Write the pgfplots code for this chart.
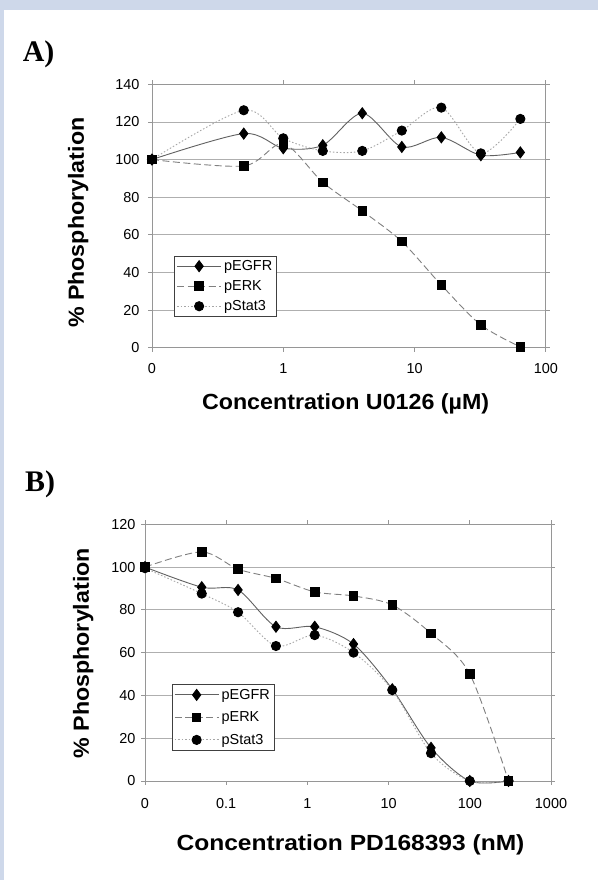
\documentclass[border=0pt]{standalone}
\usepackage{fontspec}
\setmainfont{Liberation Sans}
\newfontfamily\serifb{Liberation Serif}
\usepackage{graphicx}
\usepackage{pgfplots}
\pgfplotsset{compat=1.18}

\definecolor{bgblue}{RGB}{206,216,234}
\definecolor{gridc}{RGB}{175,175,175}
\definecolor{axc}{RGB}{150,150,150}

\pgfplotsset{
  myaxis/.style={
    scale only axis, ymin=0,
    axis line style={axc, line width=0.8bp},
    ymajorgrids, major grid style={gridc, line width=0.8bp},
    tick style={axc, line width=0.8bp},
    tick align=outside, major tick length=4bp,
    xminorticks=false, yminorticks=false,
    ticklabel style={font=\fontsize{14.5}{16}\selectfont},
    /pgf/number format/assume math mode=true,
    clip=false,
    legend cell align=left,
    legend image code/.code={\draw[mark repeat=2,mark phase=2,##1] plot coordinates {(0bp,0bp) (22bp,0bp) (44bp,0bp)};},
    legend style={draw=black!75, line width=0.8bp, fill=white,
      font=\fontsize{14.5}{16}\selectfont, inner xsep=2bp, inner ysep=1.5bp,
      row sep=3.5bp, nodes={inner sep=2.5bp}},
  },
  egfr/.style={color=black!62, solid, line width=0.9bp, smooth,
    mark=diamond*, mark size=5.5bp, mark options={solid, fill=black, draw=black}},
  erk/.style={color=black!50, dash pattern=on 7bp off 3.5bp, line width=0.9bp, smooth,
    mark=square*, mark size=4.3bp, mark options={solid, fill=black, draw=black}},
  stat/.style={color=black!35, dash pattern=on 1.5bp off 2bp, line width=0.9bp, smooth,
    mark=*, mark size=4.6bp, mark options={solid, fill=black, draw=black}},
}

\begin{document}
\begin{tikzpicture}
\fill[bgblue] (0,0) rectangle (598bp,880bp);
\fill[white] (4bp,0) rectangle (598bp,870bp);

% ---------------- Panel A ----------------
\begin{semilogxaxis}[myaxis,
  at={(152bp,532.3bp)}, anchor=south west,
  width=393.8bp, height=263.4bp,
  xmin=0.1, xmax=100, ymax=140,
  xtick={0.1,1,10,100}, xticklabels={0,1,10,100},
  ytick={0,20,...,140},
  xticklabel style={yshift=-8.6bp},
  yticklabel style={xshift=-5bp},
  legend style={at={(0.0566,0.348)}, anchor=north west},
]
\addplot[egfr] coordinates {(0.1,100) (0.5,113.8) (1,106) (2,107.6) (4,124.6) (8,106.7) (16,111.8) (32,102.3) (64,103.8)};
\addlegendentry{pEGFR}
\addplot[erk] coordinates {(0.1,100) (0.5,96.6) (1,108.4) (2,87.9) (4,72.7) (8,56.4) (16,33.3) (32,12.1) (64,0.4)};
\addlegendentry{pERK}
\addplot[stat] coordinates {(0.1,100) (0.5,126.2) (1,111.3) (2,104.6) (4,104.6) (8,115.4) (16,127.6) (32,103.3) (64,121.6)};
\addlegendentry{pStat3}
\end{semilogxaxis}

% ---------------- Panel B ----------------
\begin{semilogxaxis}[myaxis,
  at={(145bp,99bp)}, anchor=south west,
  width=406bp, height=256.7bp,
  xmin=0.01, xmax=1000, ymax=120,
  xtick={0.01,0.1,1,10,100,1000}, xticklabels={0,0.1,1,10,100,1000},
  ytick={0,20,...,120},
  xticklabel style={yshift=-10.3bp},
  yticklabel style={xshift=-2bp},
  legend style={at={(0.066,0.379)}, anchor=north west, row sep=6bp, inner ysep=2.5bp},
]
\addplot[egfr] coordinates {(0.01,100) (0.05,90.6) (0.14,89.3) (0.41,72.1) (1.23,72.1) (3.7,64.0) (11.1,42.9) (33.3,15.5) (100,0) (300,0)};
\addlegendentry{pEGFR}
\addplot[erk] coordinates {(0.01,100) (0.05,107.1) (0.14,99.0) (0.41,94.7) (1.23,88.4) (3.7,86.5) (11.1,82.3) (33.3,69.0) (100,50.0) (300,0)};
\addlegendentry{pERK}
\addplot[stat] coordinates {(0.01,99.5) (0.05,87.6) (0.14,78.9) (0.41,63.1) (1.23,68.2) (3.7,60.0) (11.1,42.5) (33.3,13.0) (100,0) (300,0)};
\addlegendentry{pStat3}
\end{semilogxaxis}

% ---------------- Texts ----------------
\node[anchor=base west, inner sep=0] at (22.7bp,818.3bp) {\fontsize{30}{32}\selectfont\serifb\bfseries A)};
\node[anchor=base west, inner sep=0] at (25bp,388.3bp) {\fontsize{30}{32}\selectfont\serifb\bfseries B)};

\node[anchor=base, inner sep=0] at (345.6bp,470bp) {\scalebox{1.06}[1]{\fontsize{22}{24}\selectfont\bfseries Concentration U0126 (\textmu M)}};
\node[anchor=base, inner sep=0] at (350.5bp,29.3bp) {\scalebox{1.12}[1]{\fontsize{22}{24}\selectfont\bfseries Concentration PD168393 (nM)}};

\node[anchor=base, inner sep=0, rotate=90] at (83.9bp,657.2bp) {\scalebox{1.06}[1]{\fontsize{22}{24}\selectfont\bfseries \% Phosphorylation}};
\node[anchor=base, inner sep=0, rotate=90] at (88.9bp,226.7bp) {\scalebox{1.06}[1]{\fontsize{22}{24}\selectfont\bfseries \% Phosphorylation}};

\pgfresetboundingbox
\path[use as bounding box] (0,0) rectangle (598bp,880bp);
\end{tikzpicture}
\end{document}
